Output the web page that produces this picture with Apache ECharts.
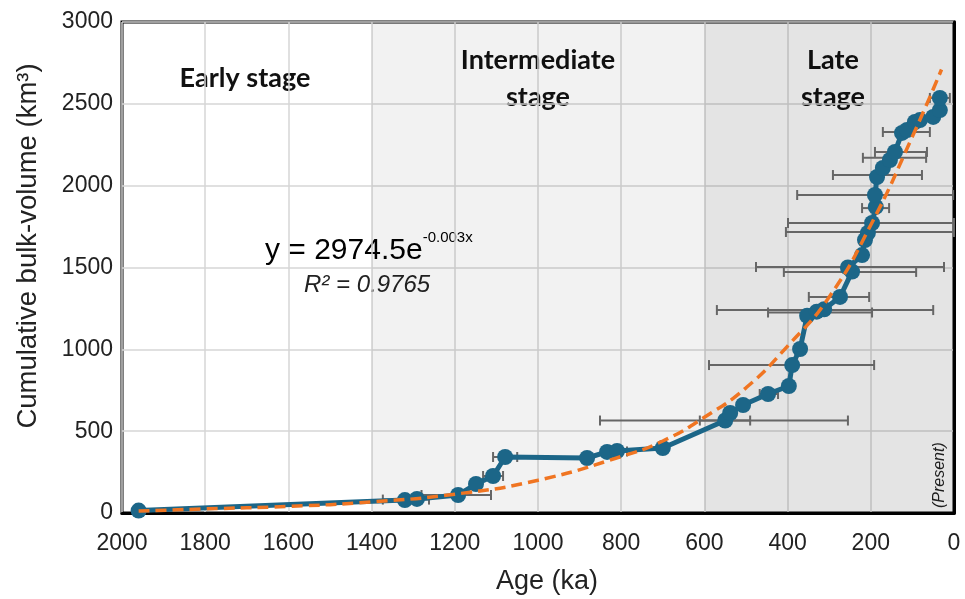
<!DOCTYPE html>
<html>
<head>
<meta charset="utf-8">
<script src="https://cdn.jsdelivr.net/npm/echarts@6/dist/echarts.min.js"></script>
<style>
html,body{margin:0;padding:0;background:#fff;}
#chart{width:965px;height:599px;}
</style>
</head>
<body>
<div id="chart"></div>
<script>
// ages (ka) and cumulative volumes (km3), oldest first
var ages = [1960, 1320, 1291, 1192, 1149, 1108, 1079, 882, 834, 810, 700,
	550, 538, 507, 447, 397, 389, 370, 353, 330, 312, 274, 245, 255,
	221, 214, 207, 197, 188, 190, 185, 171, 154, 142, 125, 113, 94, 82, 50, 34, 34];
var volumes = [15, 79, 86, 110, 177, 226, 342, 336, 373, 379, 397,
	565, 611, 660, 727, 776, 904, 1002, 1205, 1230, 1245, 1320, 1475, 1500,
	1576, 1668, 1711, 1772, 1870, 1943, 2053, 2108, 2157, 2206, 2322, 2340, 2389, 2401, 2420, 2462, 2536];

// age error bars: volume, older end, younger end
var errVol   = [82, 110, 226, 342, 336, 376, 565, 565, 727, 904, 1240, 1225, 1320, 1503, 1473, 1717, 1772, 1863, 1943, 2065, 2170, 2206, 2328, 2536];
var errOld   = [1373, 1280, 1132, 1108, 892, 830, 851, 611, 467, 589, 570, 447, 349, 476, 409, 404, 399, 221, 377, 291, 219, 190, 171, 58];
var errYoung = [1262, 1113, 1084, 1050, 872, 786, 255, 490, 423, 192, 50, 197, 204, 24, 91, 0, 0, 156, 2, 77, 67, 65, 58, 10];

// dashed exponential trend
var trendAges = [1960, 1800, 1600, 1400, 1200, 1000, 800, 700, 600, 500, 400, 300, 200, 100, 30];
var trendVols = [12, 25, 40, 68, 115, 200, 345, 440, 585, 765, 1020, 1320, 1760, 2300, 2710];

var xTicks = [0, 200, 400, 600, 800, 1000, 1200, 1400, 1600, 1800, 2000];
var yTicks = [0, 500, 1000, 1500, 2000, 2500, 3000];

var pts = ages.map(function (a, i) { return [a, volumes[i]]; });
var trend = trendAges.map(function (a, i) { return [a, trendVols[i]]; });
var errs = errVol.map(function (v, i) { return [errOld[i], errYoung[i], v]; });

var chart = echarts.init(document.getElementById('chart'));
var font = 'Liberation Sans, Arial, sans-serif';
var stageFont = 'bold 27px Lato, sans-serif';

chart.setOption({
	animation: false,
	grid: { left: 122, right: 11, top: 22, bottom: 86, show: true, borderColor: '#000', borderWidth: 3, backgroundColor: '#fff' },
	xAxis: {
		type: 'value', inverse: true, min: xTicks[0], max: xTicks[xTicks.length - 1], interval: 200,
		axisLine: { show: true, lineStyle: { color: '#000', width: 3 } },
		axisTick: { show: false },
		axisLabel: { fontSize: 23, color: '#222', fontFamily: font, margin: 19, formatter: function (v) { return String(v); } },
		splitLine: { show: true, lineStyle: { color: '#d6d6d6', width: 1.5 } }
	},
	yAxis: {
		type: 'value', min: yTicks[0], max: yTicks[yTicks.length - 1], interval: 500,
		axisLine: { show: true, lineStyle: { color: '#000', width: 3 } },
		axisTick: { show: false },
		axisLabel: { fontSize: 23, color: '#222', fontFamily: font, margin: 9, formatter: function (v) { return String(v); } },
		splitLine: { show: true, lineStyle: { color: '#d6d6d6', width: 1.5 } }
	},
	graphic: [
		// axis titles
		{ type: 'text', x: 547, y: 582, style: { text: 'Age (ka)', font: '27px ' + font, fill: '#222', textAlign: 'center', textVerticalAlign: 'middle' } },
		{ type: 'text', x: 28, y: 246, rotation: Math.PI / 2, style: { text: 'Cumulative bulk-volume (km³)', font: '27.5px ' + font, fill: '#222', textAlign: 'center', textVerticalAlign: 'middle' } },
		// stage labels
		{ type: 'text', x: 245, y: 78, style: { text: 'Early stage', font: stageFont, fill: '#111', textAlign: 'center', textVerticalAlign: 'middle' } },
		{ type: 'text', x: 538, y: 42, style: { text: 'Intermediate\nstage', font: stageFont, fill: '#111', textAlign: 'center', lineHeight: 37 } },
		{ type: 'text', x: 833, y: 42, style: { text: 'Late\nstage', font: stageFont, fill: '#111', textAlign: 'center', lineHeight: 37 } },
		// fit annotation
		{ type: 'text', x: 265, y: 230, style: {
			text: '{a|y = 2974.5e}{b|-0.003x}',
			rich: {
				a: { fontSize: 30, fontFamily: font, color: '#111', verticalAlign: 'bottom', lineHeight: 36 },
				b: { fontSize: 15, fontFamily: font, color: '#111', verticalAlign: 'top', lineHeight: 36, padding: [0, 0, 16, 0] }
			}
		} },
		{ type: 'text', x: 304, y: 273, style: { text: 'R² = 0.9765', font: 'italic 24px ' + font, fill: '#222' } },
		{ type: 'text', x: 932, y: 508, rotation: Math.PI / 2, style: { text: '(Present)', font: 'italic 16px ' + font, fill: '#222' } }
	],
	series: [
		{
			type: 'line', data: [], silent: true,
			markArea: {
				silent: true,
				data: [
					[{ xAxis: 1400, itemStyle: { color: 'rgba(0,0,0,0.05)' } }, { xAxis: 600 }],
					[{ xAxis: 600, itemStyle: { color: 'rgba(0,0,0,0.105)' } }, { xAxis: 0 }]
				]
			}
		},
		{
			type: 'custom', data: errs, z: 3,
			renderItem: function (params, api) {
				var p1 = api.coord([api.value(0), api.value(2)]);
				var p2 = api.coord([api.value(1), api.value(2)]);
				var c = 5;
				var st = { stroke: '#666', lineWidth: 2 };
				return { type: 'group', children: [
					{ type: 'line', shape: { x1: p1[0], y1: p1[1], x2: p2[0], y2: p2[1] }, style: st },
					{ type: 'line', shape: { x1: p1[0], y1: p1[1] - c, x2: p1[0], y2: p1[1] + c }, style: st },
					{ type: 'line', shape: { x1: p2[0], y1: p2[1] - c, x2: p2[0], y2: p2[1] + c }, style: st }
				] };
			}
		},
		{
			type: 'line', data: pts, z: 4,
			symbol: 'circle', symbolSize: 16,
			lineStyle: { color: '#1c6688', width: 5 },
			itemStyle: { color: '#1c6688' }
		},
		{
			type: 'line', data: trend, z: 5, smooth: true, symbol: 'none',
			lineStyle: { color: '#f07522', width: 3.5, type: [11, 6] }
		}
	]
});
</script>
</body>
</html>
